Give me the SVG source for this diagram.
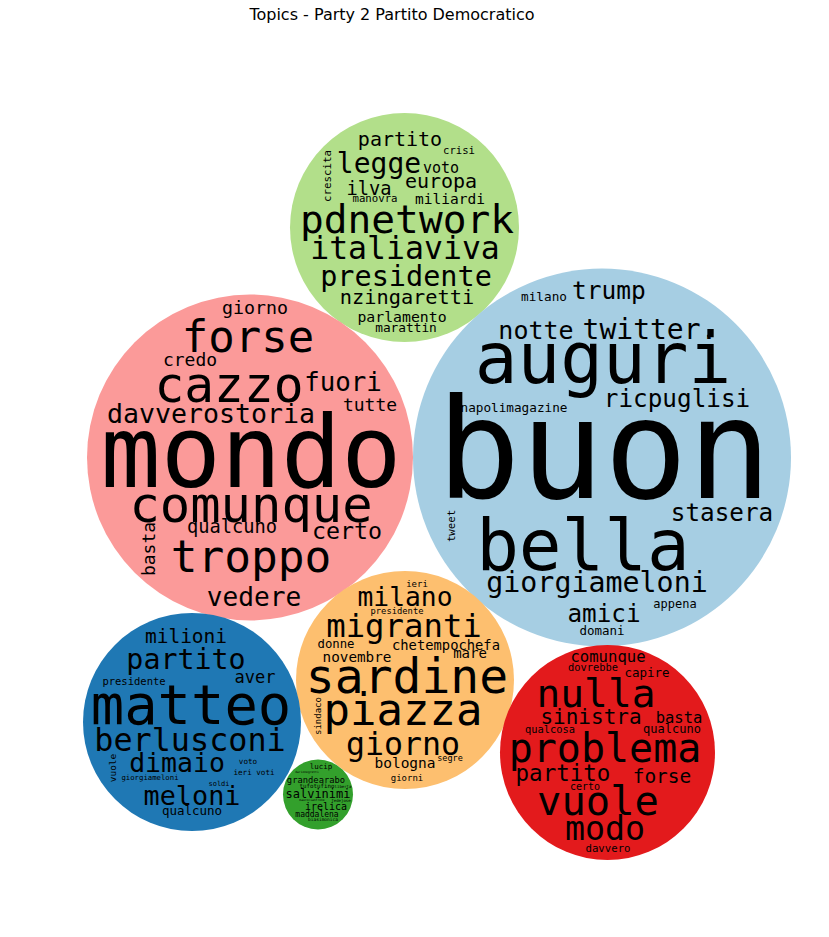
<svg xmlns="http://www.w3.org/2000/svg" width="829" height="937" viewBox="0 0 829 937">
<style>
text{font-family:"DejaVu Sans Mono","Liberation Mono",monospace;fill:#000;text-anchor:middle}
.title{font-family:"DejaVu Sans","Liberation Sans",sans-serif;font-size:16px}
</style>
<rect width="829" height="937" fill="#fff"/>
<text class="title" x="392" y="20">Topics - Party 2 Partito Democratico</text>
<g id="connectors"/>

<g id="topic-lightgreen">
<circle cx="404.5" cy="227.5" r="114.5" fill="#b2df8a"/>
<text x="400" y="146" font-size="20">partito</text>
<text x="459" y="154" font-size="10.6">crisi</text>
<text x="379" y="173" font-size="28">legge</text>
<text x="441" y="173" font-size="15">voto</text>
<text x="331" y="176" font-size="10.8" transform="rotate(-90 331 176)">crescita</text>
<text x="369" y="195" font-size="18.7">ilva</text>
<text x="441" y="188" font-size="20">europa</text>
<text x="375" y="202" font-size="10.7">manovra</text>
<text x="450" y="204" font-size="14.5">miliardi</text>
<text x="407" y="233" font-size="39.5">pdnetwork</text>
<text x="405" y="259" font-size="31.5">italiaviva</text>
<text x="406" y="286" font-size="28.5">presidente</text>
<text x="407" y="304" font-size="20.3">nzingaretti</text>
<text x="402" y="322" font-size="14.8">parlamento</text>
<text x="406" y="332" font-size="12.8">marattin</text>
</g>

<g id="topic-lightblue">
<circle cx="602" cy="457.5" r="189" fill="#a6cee3"/>
<text x="544" y="301" font-size="12.7">milano</text>
<text x="609" y="299" font-size="24.5">trump</text>
<text x="536" y="339" font-size="25">notte</text>
<text x="650" y="339" font-size="28">twitter.</text>
<text x="603" y="383" font-size="71">auguri</text>
<text x="677" y="407" font-size="24.3">ricpuglisi</text>
<text x="514" y="412" font-size="12.7">napolimagazine</text>
<text x="604" y="498" font-size="139">buon</text>
<text x="722" y="521" font-size="24.3">stasera</text>
<text x="455" y="526" font-size="10.7" transform="rotate(-90 455 526)">tweet</text>
<text x="583" y="570" font-size="71">bella</text>
<text x="597" y="592" font-size="28.3">giorgiameloni</text>
<text x="675" y="608" font-size="12">appena</text>
<text x="604" y="622" font-size="24.3">amici</text>
<text x="602" y="635" font-size="12.5">domani</text>
</g>

<g id="topic-pink">
<circle cx="250" cy="457.5" r="163" fill="#fb9a99"/>
<text x="255" y="314" font-size="18.3">giorno</text>
<text x="248" y="352" font-size="44">forse</text>
<text x="229" y="402" font-size="49.5">cazzo</text>
<text x="190" y="366" font-size="18">credo</text>
<text x="343" y="391" font-size="25.8">fuori</text>
<text x="370" y="411" font-size="18">tutte</text>
<text x="211" y="423" font-size="26.6">davverostoria</text>
<text x="251" y="487" font-size="100">mondo</text>
<text x="251" y="522" font-size="50.5">comunque</text>
<text x="232" y="533" font-size="18.7">qualcuno</text>
<text x="347" y="539" font-size="23.3">certo</text>
<text x="155" y="549" font-size="18" transform="rotate(-90 155 549)">basta</text>
<text x="251" y="572" font-size="44.5">troppo</text>
<text x="254" y="606" font-size="26.2">vedere</text>
</g>

<g id="topic-orange">
<circle cx="405" cy="680" r="109" fill="#fdbf6f"/>
<text x="417" y="587" font-size="9">ieri</text>
<text x="405" y="606" font-size="26.3">milano</text>
<text x="397" y="614" font-size="8.8">presidente</text>
<text x="404" y="637" font-size="32.3">migranti</text>
<text x="336" y="648" font-size="12.3">donne</text>
<text x="446" y="650" font-size="13.8">chetempochefa</text>
<text x="357" y="662" font-size="14.3">novembre</text>
<text x="470" y="658" font-size="14">mare</text>
<text x="407" y="693" font-size="48">sardine</text>
<text x="321" y="716" font-size="9" transform="rotate(-90 321 716)">sindaco</text>
<text x="403" y="725" font-size="44">piazza</text>
<text x="403" y="755" font-size="31.6">giorno</text>
<text x="405" y="768" font-size="14.5">bologna</text>
<text x="450" y="761" font-size="8.5">segre</text>
<text x="407" y="781" font-size="9">giorni</text>
</g>

<g id="topic-darkblue">
<circle cx="192" cy="722" r="109" fill="#1f78b4"/>
<text x="186" y="643" font-size="19.5">milioni</text>
<text x="186" y="669" font-size="28.3">partito</text>
<text x="255" y="683" font-size="17">aver</text>
<text x="134" y="685" font-size="10.5">presidente</text>
<text x="191" y="724" font-size="55.5">matteo</text>
<text x="190" y="751" font-size="31.8">berlusconi</text>
<text x="177" y="772" font-size="26.5">dimaio</text>
<text x="248" y="764" font-size="7.6">voto</text>
<text x="254" y="775" font-size="7.6">ieri voti</text>
<text x="116" y="768" font-size="9.5" transform="rotate(-90 116 768)">vuole</text>
<text x="150" y="780" font-size="7.3">giorgiameloni</text>
<text x="219" y="786" font-size="7">soldi</text>
<text x="192" y="805" font-size="26.8">meloni</text>
<text x="192" y="815" font-size="12.5">qualcuno</text>
</g>

<g id="topic-red">
<circle cx="607.5" cy="752.5" r="107.5" fill="#e31a1c"/>
<text x="608" y="662" font-size="15.6">comunque</text>
<text x="593" y="671" font-size="10.4">dovrebbe</text>
<text x="647" y="677" font-size="12.5">capire</text>
<text x="596" y="707" font-size="39.5">nulla</text>
<text x="591" y="724" font-size="21">sinistra</text>
<text x="679" y="723" font-size="15.5">basta</text>
<text x="550" y="733" font-size="10.4">qualcosa</text>
<text x="672" y="733" font-size="12">qualcuno</text>
<text x="605" y="762" font-size="40">problema</text>
<text x="563" y="781" font-size="22.5">partito</text>
<text x="662" y="783" font-size="19.5">forse</text>
<text x="585" y="790" font-size="10">certo</text>
<text x="598" y="815" font-size="40.5">vuole</text>
<text x="605" y="840" font-size="33.3">modo</text>
<text x="608" y="852" font-size="10.7">davvero</text>
</g>

<g id="topic-green">
<circle cx="318" cy="794.5" r="35" fill="#33a02c"/>
<text x="321" y="769" font-size="7.5">lucip</text>
<text x="307" y="773" font-size="3">darionegretti</text>
<text x="316" y="783" font-size="8.8">grandearabo</text>
<text x="317" y="788" font-size="5.8">tufotufino</text>
<text x="343" y="788" font-size="4">liberta</text>
<text x="318" y="798" font-size="12">salvinimi</text>
<text x="312" y="801" font-size="3">maurocianfrone</text>
<text x="341" y="802" font-size="4">fedejose</text>
<text x="326" y="810" font-size="10">irelica</text>
<text x="317" y="817" font-size="8">maddalena</text>
<text x="323" y="821" font-size="4.5">biasimonica</text>
</g>
</svg>
